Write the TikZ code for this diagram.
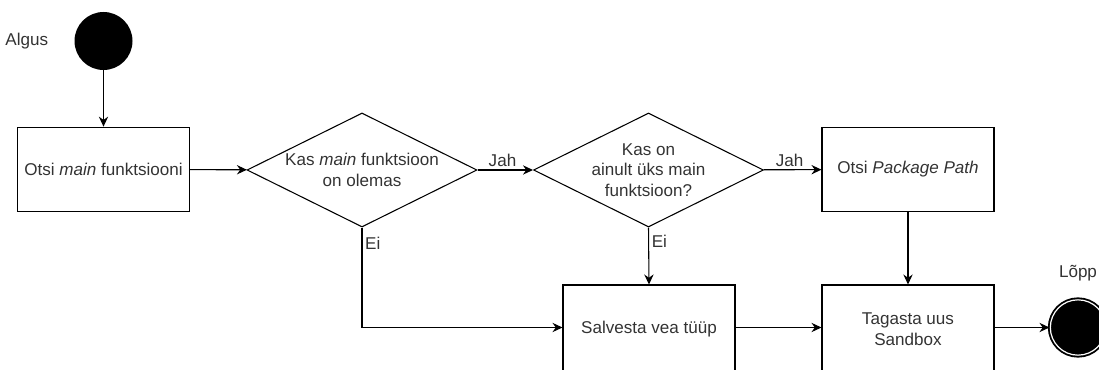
\documentclass[tikz,border=0pt]{standalone}
\usepackage{fontspec}
\setmainfont{Liberation Sans}
\usetikzlibrary{shapes.geometric,arrows.meta}

\definecolor{txt}{HTML}{333333}

\begin{document}
\begin{tikzpicture}[x=0.75pt, y=-0.75pt,
		font=\fontsize{12.8}{15.4}\selectfont,
		box/.style={rectangle, draw, thick, minimum width=129pt, minimum height=63.5pt, align=center, text=txt},
		decision/.style={diamond, draw, thick, shape aspect=2, inner sep=0pt, minimum width=172.5pt, minimum height=85.5pt, align=center, text=txt},
		startnode/.style={circle, fill=black, minimum size=43.5pt, inner sep=0pt},
		endnode/.style={circle, fill=black, draw=black, line width=1.4pt, double=white, double distance=0.9pt, minimum size=41.5pt, inner sep=0pt},
		arr/.style={thick, -{Stealth[length=7.5pt, width=7pt, inset=2.5pt]}},
		lbl/.style={text=txt, inner sep=2pt}]
			\useasboundingbox (0,0) rectangle (1099,370);
			% states
			\node[startnode, label={[text=txt, label distance=16pt]left:Algus}]
				(start) at (103.5,41) {};
			\node[endnode, label={[text=txt, label distance=10pt]above:Lõpp}]
				(end) at (1078,327.5) {};
			% steps
			\node[box] (main) at (103.5,169.5) {Otsi \textit{main} funktsiooni};
			\node[decision] (exists) at (362,170) {Kas \textit{main} funktsioon\\on olemas};
			\node[decision] (single) at (648.5,170) {Kas on\\ainult üks main\\funktsioon?};
			\node[box] (path) at (908,169.5) {Otsi \textit{Package Path}};
			\node[box, minimum height=66pt] (error) at (649,329) {Salvesta vea tüüp};
			\node[box, minimum height=66pt] (sandbox) at (908,329) {Tagasta uus\\Sandbox};
			% flow
			\draw[arr] (start) -- (main);
			\draw[arr] (main) -- (exists);
			\draw[arr] (exists) -- node[lbl, above, pos=0.45] {Jah} (single);
			\draw[arr] (single) -- node[lbl, above, pos=0.45] {Jah} (path);
			\draw[arr] (exists.south) |- node[lbl, right, pos=0.08] {Ei} (end.west -| error.west);
			\draw[arr] (single.south) -- node[lbl, right, pos=0.25] {Ei} (error.north);
			\draw[arr] (path) -- (sandbox);
			\draw[arr] (error.east |- end) -- (sandbox.west |- end);
			\draw[arr] (sandbox.east |- end) -- (end);
		\end{tikzpicture}
\end{document}
